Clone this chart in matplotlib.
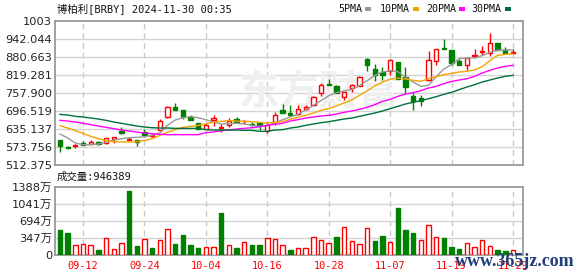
import numpy as np
import matplotlib.pyplot as plt
from matplotlib.patches import Rectangle

### chart data ###
title_text = "博柏利[BRBY] 2024-11-30 00:35"
vol_title = "成交量:946389"

opens = [595.7, 574.0, 575.1, 585.4, 584.3, 589.9, 586.5, 600.2, 628.8, 598.0,
         595.7, 624.2, 609.3, 629.9, 676.7, 709.8, 699.5, 674.4, 653.9, 635.6,
         664.1, 639.0, 647.0, 668.7, 660.7, 652.7, 653.9, 626.5, 658.4, 699.5,
         690.4, 684.7, 701.8, 715.5, 756.5, 787.3, 782.8, 745.1, 775.9, 782.8,
         874.1, 841.0, 829.6, 831.9, 863.8, 813.6, 748.6, 740.6, 801.0, 866.1,
         910.6, 904.9, 866.1, 852.4, 884.3, 899.2, 894.6, 928.8, 906.0, 893.5]
highs = [595.7, 577.4, 583.1, 592.2, 596.8, 593.4, 603.7, 607.1, 642.4, 607.1,
         596.8, 634.4, 620.8, 668.7, 714.3, 723.5, 699.5, 683.5, 653.9, 653.9,
         681.2, 651.6, 672.1, 675.5, 665.3, 659.5, 653.9, 656.1, 691.5, 718.9,
         715.5, 715.5, 717.8, 746.3, 790.8, 804.5, 785.1, 761.1, 788.5, 817.0,
         877.5, 858.1, 845.5, 874.1, 863.8, 845.5, 756.5, 752.0, 900.3, 908.3,
         941.4, 904.9, 875.2, 876.4, 908.3, 917.4, 963.1, 928.8, 914.0, 909.4]
lows = [554.6, 566.0, 570.5, 578.5, 583.1, 579.7, 583.1, 587.7, 617.3, 595.7,
        577.4, 608.2, 607.1, 628.8, 673.2, 700.6, 668.7, 664.1, 634.4, 633.3,
        643.6, 623.0, 642.4, 657.3, 651.6, 644.7, 632.2, 619.6, 649.3, 690.4,
        682.4, 681.2, 698.4, 712.0, 746.3, 783.9, 756.5, 733.7, 761.1, 781.6,
        834.1, 797.6, 803.3, 818.2, 806.7, 757.7, 700.6, 712.0, 797.6, 852.4,
        907.2, 854.7, 854.7, 837.6, 877.5, 888.9, 883.2, 903.7, 892.3, 893.5]
closes = [575.1, 570.5, 578.5, 580.8, 589.9, 583.1, 602.5, 607.1, 620.8, 601.4,
          591.1, 612.8, 613.9, 661.8, 708.6, 700.6, 674.4, 664.1, 634.4, 648.2,
          672.1, 642.4, 660.7, 659.5, 663.0, 649.3, 649.3, 649.3, 683.5, 690.4,
          682.4, 702.9, 709.8, 742.9, 785.1, 785.1, 756.5, 761.1, 783.9, 811.3,
          852.4, 820.4, 820.4, 869.5, 806.7, 779.4, 731.4, 731.4, 870.6, 908.3,
          907.2, 861.5, 854.7, 876.4, 886.6, 901.4, 928.8, 906.0, 894.6, 899.2]

ma5 = [617.3, 603.7, 586.5, 580.8, 580.8, 583.1, 588.8, 596.8, 601.4, 604.8,
       606.0, 608.2, 612.8, 620.8, 647.0, 665.3, 673.2, 676.7, 673.2, 666.4,
       658.4, 651.6, 652.7, 653.9, 651.6, 647.0, 643.6, 647.0, 655.0, 666.4,
       675.5, 684.7, 699.5, 715.5, 731.4, 748.6, 758.8, 764.5, 770.3, 782.8,
       799.9, 818.2, 829.6, 834.1, 830.7, 811.3, 795.3, 780.5, 783.9, 813.6,
       839.8, 854.7, 875.2, 877.5, 877.5, 885.5, 896.9, 903.7, 904.9, 904.9]
ma10 = [645.9, 637.9, 628.8, 619.6, 609.3, 601.4, 594.5, 591.1, 590.0, 590.0,
        591.1, 594.5, 601.4, 612.8, 623.0, 632.2, 640.2, 643.6, 647.0, 651.6,
        658.4, 660.7, 663.0, 661.8, 660.7, 659.5, 657.3, 655.0, 657.3, 659.5,
        667.5, 674.4, 681.2, 689.2, 698.4, 704.1, 713.2, 723.5, 733.7, 749.7,
        765.7, 781.6, 795.3, 804.5, 809.0, 805.6, 801.0, 797.6, 806.7, 813.6,
        820.4, 825.0, 829.6, 831.9, 836.4, 847.8, 868.4, 886.6, 890.0, 891.2]
ma20 = [664.1, 661.8, 658.4, 653.9, 649.3, 644.7, 640.2, 635.6, 631.0, 627.6,
        624.2, 620.8, 618.5, 616.2, 615.1, 615.1, 615.1, 615.1, 615.1, 621.9,
        624.2, 628.8, 631.0, 634.4, 636.7, 639.0, 642.4, 647.0, 650.4, 653.9,
        661.8, 666.4, 672.1, 675.5, 679.0, 681.2, 685.8, 691.5, 696.1, 701.8,
        708.6, 717.8, 729.2, 736.0, 746.3, 754.3, 758.8, 765.7, 774.8, 780.5,
        789.6, 797.6, 802.2, 806.7, 814.7, 826.2, 835.3, 843.3, 849.0, 852.4]
ma30 = [684.6, 682.4, 677.8, 675.5, 672.1, 668.7, 664.1, 658.4, 653.9, 649.3,
        644.7, 641.3, 639.0, 637.9, 637.9, 636.7, 636.7, 636.7, 636.7, 632.2,
        631.0, 631.0, 631.0, 631.0, 629.9, 629.9, 626.5, 626.5, 631.0, 632.2,
        637.9, 641.3, 647.0, 651.6, 656.1, 659.5, 664.1, 668.7, 672.1, 677.8,
        683.5, 689.2, 696.1, 704.1, 712.0, 720.1, 725.7, 731.4, 738.3, 745.1,
        753.1, 759.9, 769.1, 778.2, 786.2, 795.3, 802.2, 809.0, 814.7, 818.1]

# volume in 万 shares, and whether the bar is red (up vs previous close)
volume = [508, 447, 196, 217, 196, 102, 339, 122, 237, 1300,
          183, 318, 142, 305, 521, 223, 406, 203, 142, 156,
          156, 853, 196, 142, 257, 203, 203, 339, 318, 196,
          102, 135, 135, 359, 305, 237, 366, 562, 284, 217,
          542, 284, 386, 264, 955, 508, 447, 305, 603, 359,
          345, 162, 122, 237, 156, 305, 176, 102, 81, 94.6]
vol_up = [0, 0, 1, 1, 1, 0, 1, 1, 1, 0,
          0, 1, 0, 1, 1, 0, 0, 0, 0, 1,
          1, 0, 1, 0, 1, 0, 0, 1, 1, 1,
          0, 1, 1, 1, 1, 1, 0, 1, 1, 1,
          1, 0, 0, 1, 0, 0, 0, 1, 1, 1,
          0, 0, 0, 1, 1, 1, 1, 0, 0, 1]

date_pos = [3, 11, 19, 27, 35, 43, 51, 59]
date_labels = ["09-12", "09-24", "10-04", "10-16", "10-28", "11-07", "11-19", "11-29"]
price_ticks = [512.375, 573.756, 635.137, 696.519, 757.900, 819.281, 880.663, 942.044, 1003]
price_labels = ["512.375", "573.756", "635.137", "696.519", "757.900", "819.281", "880.663", "942.044", "1003"]
vol_ticks = [0, 347, 694, 1041, 1388]
vol_labels = ["0", "347万", "694万", "1041万", "1388万"]
ma_names = ["5PMA", "10PMA", "20PMA", "30PMA"]

RED = "#ff0000"
GREEN = "#008000"
ma_colors = ["#999999", "#f5a300", "#ff00ff", "#00703a"]
mono = ["DejaVu Sans Mono", "Noto Sans CJK SC"]
sans = ["DejaVu Sans", "Noto Sans CJK SC"]

W, H = 578, 276
fig = plt.figure(figsize=(W / 100, H / 100), dpi=100)
ax = fig.add_axes([55 / W, 1 - 164.7 / H, 467.5 / W, 143.4 / H])
axv = fig.add_axes([55 / W, 1 - 255 / H, 467.5 / W, 68.3 / H])

x = np.arange(len(closes))
xlim = (-0.65, 60.24)

def style_axes(a):
    for s in a.spines.values():
        s.set_color("#999999")
        s.set_linewidth(1.3)
    a.set_xlim(*xlim)
    a.tick_params(length=0, labelsize=8.2, colors="#222222", pad=2)
    for p in date_pos:
        a.axvline(p, color="#c8c8c8", lw=1, ls=(0, (4, 3)), zorder=0)

### price panel ###
style_axes(ax)
ax.set_ylim(price_ticks[0], price_ticks[-1])
ax.set_yticks(price_ticks)
ax.set_yticklabels(price_labels)
ax.set_xticks([])
for t in price_ticks[1:-1]:
    ax.axhline(t, color="#d4d4d4", lw=1, zorder=0)

ax.text(0.565, 0.5, "东方财富", transform=ax.transAxes, fontsize=29,
        family=["Noto Sans CJK SC"], weight="bold", color="#efefef",
        ha="center", va="center", zorder=0)

bw = 0.56
for i in x:
    o, h, l, c = opens[i], highs[i], lows[i], closes[i]
    if c >= o:
        ax.vlines(i, l, o, color=RED, lw=1, zorder=3)
        ax.vlines(i, c, h, color=RED, lw=1, zorder=3)
        ax.add_patch(Rectangle((i - bw / 2, o), bw, max(c - o, 0.8),
                               fc="white", ec=RED, lw=1, zorder=4))
    else:
        ax.vlines(i, l, h, color=GREEN, lw=1, zorder=3)
        ax.add_patch(Rectangle((i - bw / 2, c), bw, o - c,
                               fc=GREEN, ec=GREEN, lw=1, zorder=4))

for ma, col in zip([ma5, ma10, ma20, ma30], ma_colors):
    ax.plot(x, ma, color=col, lw=1, zorder=5)

### volume panel ###
style_axes(axv)
axv.set_ylim(0, 1388)
axv.set_yticks(vol_ticks)
axv.set_yticklabels(vol_labels, family=sans)
for t in vol_ticks[1:-1]:
    axv.axhline(t, color="#d4d4d4", lw=1, zorder=0)
vcols = [RED if u else GREEN for u in vol_up]
vface = ["white" if u else GREEN for u in vol_up]
axv.bar(x, volume, width=0.58, color=vface, edgecolor=vcols, lw=1, zorder=3)
axv.set_xticks(date_pos)
axv.set_xticklabels(date_labels, family=mono, fontsize=7.4, color=RED)
axv.tick_params(axis="x", pad=4.5)

### texts ###
fig.text(57 / W, 1 - 9 / H, title_text, family=mono, fontsize=7.5,
         color="#111111", va="center", ha="left")
fig.text(57 / W, 1 - 177 / H, vol_title, family=mono, fontsize=7.5,
         color="#111111", va="center", ha="left")

leg_text_x = [338, 380, 426, 471]
leg_box_x = [365, 413, 459, 505]
for name, col, tx, bx in zip(ma_names, ma_colors, leg_text_x, leg_box_x):
    fig.text(tx / W, 1 - 9 / H, name, family=mono, fontsize=7.2,
             color="#111111", va="center", ha="left")
    fig.add_artist(Rectangle((bx / W, 1 - 10.5 / H), 5.5 / W, 3.5 / H,
                             transform=fig.transFigure, fc=col, ec="none"))

# site watermark sitting over the last date labels, as in the source image
fig.text(455 / W, 1 - 262 / H, "www.365jz.com", family=["Liberation Serif"],
         fontsize=13, weight="bold", color="#1f3f78", va="center", ha="left")

fig.savefig("out.png", dpi=100)
